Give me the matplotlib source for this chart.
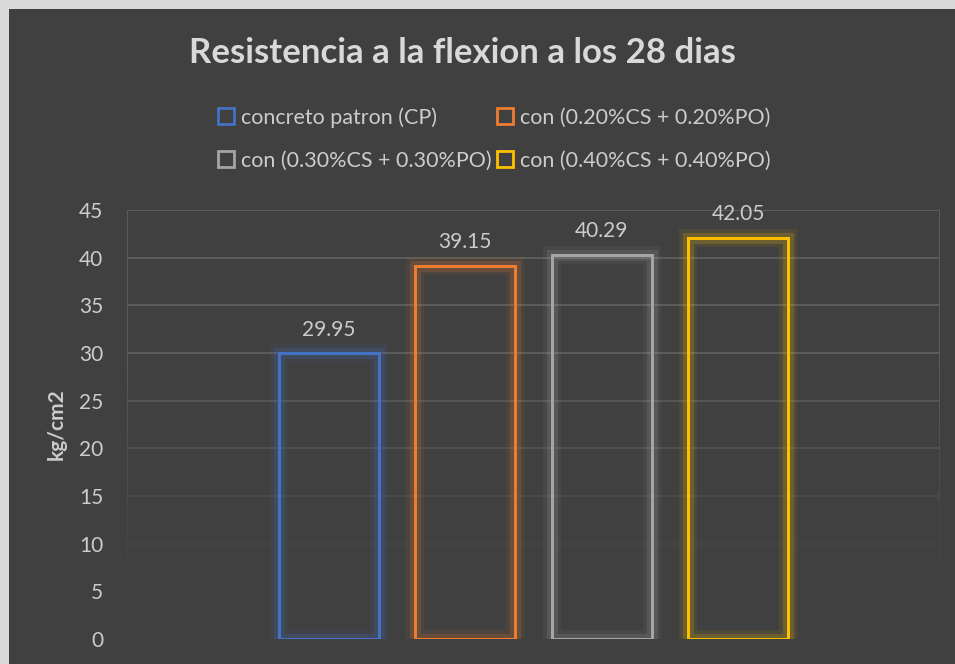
import matplotlib
matplotlib.use('Agg')
import matplotlib.pyplot as plt
import matplotlib.patheffects as pe
from matplotlib.lines import Line2D
from matplotlib.patches import Rectangle
import numpy as np

series = ['concreto patron (CP)', 'con (0.20%CS + 0.20%PO)',
          'con (0.30%CS + 0.30%PO)', 'con (0.40%CS + 0.40%PO)']
values = [29.95, 39.15, 40.29, 42.05]
labels = ['29.95', '39.15', '40.29', '42.05']
yticks = [0, 5, 10, 15, 20, 25, 30, 35, 40, 45]
colors = ['#4472C4', '#ED7D31', '#A5A5A5', '#FFC000']

plt.rcParams['font.family'] = ['Lato', 'DejaVu Sans']
bg = '#404040'
txt = '#CCCCCC'

fig = plt.figure(figsize=(9.55, 6.64), dpi=100)
fig.patch.set_facecolor(bg)
# light border strips on the left and top
fig.patches.append(Rectangle((0, 0), 9 / 955, 1, transform=fig.transFigure,
                             facecolor='#D9D9D9', edgecolor='none'))
fig.patches.append(Rectangle((0, 1 - 9 / 664), 1, 9 / 664, transform=fig.transFigure,
                             facecolor='#D9D9D9', edgecolor='none'))

ax = fig.add_axes([127 / 955, 1 - 639 / 664, (940 - 127) / 955, (639 - 210) / 664])
ax.set_zorder(2)
ax.set_facecolor('none')
ax.set_ylim(0, 45)
step = 136.5
ax.set_xlim(1.5 - (533.5 - 127) / step, 1.5 + (940 - 533.5) / step)


def fade(v):
    return float(np.clip((v - 4) / 26, 0, 1)) ** 1.2


x = np.arange(len(values))
for i, (v, c) in enumerate(zip(values, colors)):
    r = Rectangle((x[i] - 0.365, 0), 0.73, v, facecolor='none', edgecolor=c,
                  linewidth=2.0, zorder=3)
    r.set_path_effects([pe.withStroke(linewidth=13, foreground=c, alpha=0.08),
                        pe.withStroke(linewidth=8, foreground=c, alpha=0.18),
                        pe.Normal()])
    ax.add_patch(r)
    ax.text(x[i], v + 2.5, labels[i], ha='center', va='center', color=txt, fontsize=15)

# fading gridlines
for t in yticks:
    if t > 0:
        ax.axhline(t, color='#5C5C5C', linewidth=1.4, alpha=fade(t), zorder=1)
for xe in ax.get_xlim():
    for k in range(45):
        ax.plot([xe, xe], [k, k + 1], color='#5C5C5C', linewidth=1.4, alpha=fade(k + 0.5),
                zorder=1, solid_capstyle='butt')

for s in ax.spines.values():
    s.set_visible(False)
ax.set_xticks([])
ax.set_yticks(yticks)
ax.set_yticklabels([str(t) for t in yticks])
ax.tick_params(axis='y', length=0, pad=17, labelcolor=txt, labelsize=15)
ax.set_ylabel('kg/cm2', color=txt, fontsize=15, fontweight='bold', labelpad=9)

fig.text(462 / 955, 1 - 53 / 664, 'Resistencia a la flexion a los 28 dias',
         ha='center', va='center', color='#D9D9D9', fontsize=25, fontweight='bold')

handles = [Line2D([], [], marker='s', linestyle='none', markersize=11,
                  markerfacecolor='none', markeredgecolor=c, markeredgewidth=2)
           for c in colors]
order = [0, 2, 1, 3]
leg = fig.legend([handles[k] for k in order], [series[k] for k in order],
                 loc='center', bbox_to_anchor=(494 / 955, 1 - 139 / 664),
                 ncol=2, frameon=False, fontsize=15.5, labelcolor=txt,
                 handlelength=0.8, handletextpad=0.3, columnspacing=0.2, labelspacing=1.05)

fig.savefig('out.png', dpi=100, facecolor=fig.get_facecolor())
